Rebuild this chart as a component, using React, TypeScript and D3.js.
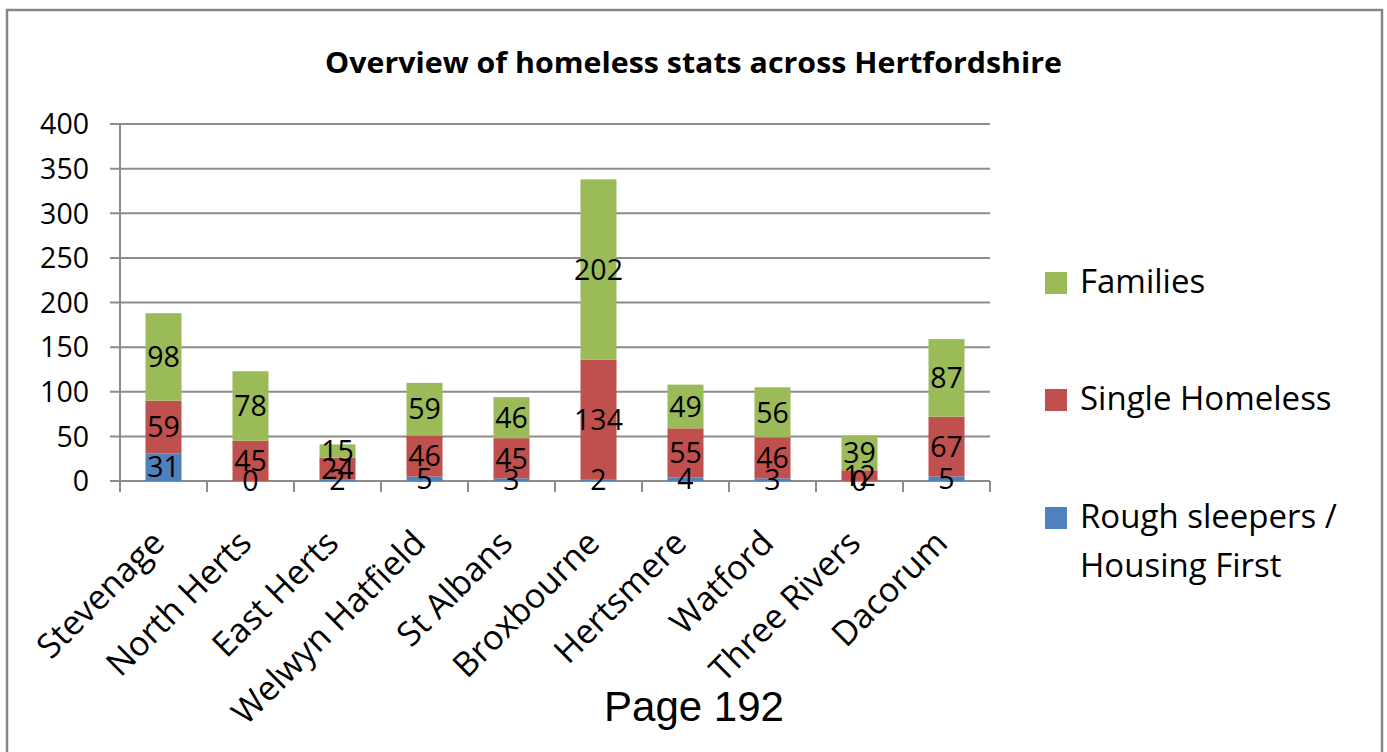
import React from "react";
import * as d3 from "d3";

const categories = ["Stevenage", "North Herts", "East Herts", "Welwyn Hatfield", "St Albans", "Broxbourne", "Hertsmere", "Watford", "Three Rivers", "Dacorum"];
const roughSleepers = [31, 0, 2, 5, 3, 2, 4, 3, 0, 5];
const singleHomeless = [59, 45, 24, 46, 45, 134, 55, 46, 12, 67];
const families = [98, 78, 15, 59, 46, 202, 49, 56, 39, 87];
const yTicks = [0, 50, 100, 150, 200, 250, 300, 350, 400];
const seriesNames = ["Rough sleepers / Housing First", "Single Homeless", "Families"];
const seriesColors = ["#4F81BD", "#C0504D", "#9BBB59"];

const FONT = "'Open Sans', sans-serif";

export default function App() {
  const width = 1387;
  const height = 752;
  const x = d3.scaleBand<string>().domain(categories).range([120, 990]).paddingInner(0.586).paddingOuter(0.293);
  const y = d3.scaleLinear().domain([0, 400]).range([481, 124]);
  const step = x.step();

  const rows = categories.map((c, i) => ({ cat: c, r: roughSleepers[i], s: singleHomeless[i], f: families[i] }));
  const stack = d3.stack<any>().keys(["r", "s", "f"])(rows);

  const bounds = d3.range(categories.length + 1).map((i) => 120 + i * step);

  return (
    <svg width={width} height={height} style={{ position: "absolute", left: 0, top: 0, background: "#fff" }}>
      <rect x={7} y={10} width={1375} height={760} fill="#fff" stroke="#868686" strokeWidth={2.5} />
      <text x={693.5} y={73} textAnchor="middle" fontFamily={FONT} fontWeight="bold" fontSize={29} textLength={737} lengthAdjust="spacingAndGlyphs" fill="#000">
        Overview of homeless stats across Hertfordshire
      </text>
      {yTicks.map((t) => (
        <g key={t}>
          <line x1={110} x2={990} y1={y(t)} y2={y(t)} stroke="#8c8c8c" strokeWidth={2} />
          <text x={89} y={y(t)} dy="0.36em" textAnchor="end" fontFamily={FONT} fontSize={28.5} fill="#000">{t}</text>
        </g>
      ))}
      <line x1={120} x2={120} y1={y(400)} y2={y(0)} stroke="#8c8c8c" strokeWidth={2} />
      {bounds.map((b, i) => (
        <line key={i} x1={b} x2={b} y1={y(0)} y2={y(0) + 11} stroke="#8c8c8c" strokeWidth={2} />
      ))}
      {stack.map((layer, li) => (
        <g key={li}>
          {layer.map((d: any, i: number) => (
            <rect key={i} x={x(categories[i])} width={x.bandwidth()} y={y(d[1])} height={y(d[0]) - y(d[1])} fill={seriesColors[li]} />
          ))}
        </g>
      ))}
      {stack.map((layer, li) => (
        <g key={"l" + li}>
          {layer.map((d: any, i: number) => (
            <text key={i} x={(x(categories[i]) as number) + x.bandwidth() / 2} y={y((d[0] + d[1]) / 2)} dy="0.36em" textAnchor="middle" fontFamily={FONT} fontSize={28.5} fill="#000">
              {d[1] - d[0]}
            </text>
          ))}
        </g>
      ))}
      {categories.map((c) => {
        const cx = (x(c) as number) + x.bandwidth() / 2;
        return (
          <text key={c} transform={`translate(${cx + 3},545) rotate(-45)`} textAnchor="end" fontFamily={FONT} fontSize={34} fill="#000">
            {c}
          </text>
        );
      })}
      {[2, 1, 0].map((si, k) => {
        const base = [293, 410, 528][k];
        return (
          <g key={si}>
            <rect x={1045} y={base - 21} width={22} height={22} fill={seriesColors[si]} />
            {si === 0 ? (
              <text x={1080} y={base} fontFamily={FONT} fontSize={33} fill="#000">
                <tspan x={1080}>Rough sleepers /</tspan>
                <tspan x={1080} dy={49}>Housing First</tspan>
              </text>
            ) : (
              <text x={1080} y={base} fontFamily={FONT} fontSize={33} fill="#000">{seriesNames[si]}</text>
            )}
          </g>
        );
      })}
      <text x={694} y={721} textAnchor="middle" fontFamily="'Liberation Sans', Arial, sans-serif" fontSize={42} fill="#000">Page 192</text>
    </svg>
  );
}
